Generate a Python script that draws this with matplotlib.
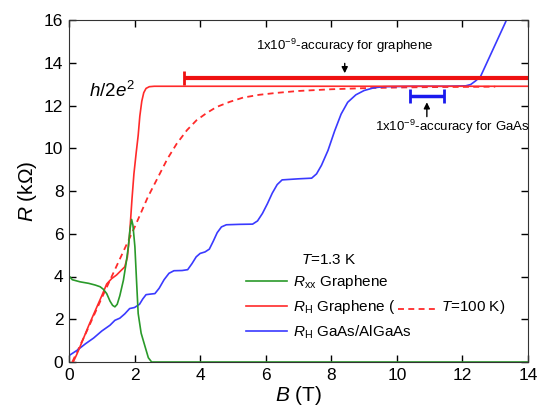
from matplotlib import pyplot as plt
from matplotlib.lines import Line2D
import numpy as np

plt.rcParams['font.family'] = ['Liberation Sans', 'DejaVu Sans']
plt.rcParams['mathtext.fontset'] = 'custom'
plt.rcParams['mathtext.rm'] = 'Liberation Sans'
plt.rcParams['mathtext.it'] = 'Liberation Sans:italic'

#%% Data (B in T, R in kOhm)
b_rxx = [0.0, 0.03, 0.1, 0.34, 0.6, 0.8, 0.95, 1.05, 1.15, 1.25, 1.33, 1.40, 1.47,
         1.55, 1.66, 1.74, 1.81, 1.86, 1.91, 1.95, 2.01, 2.06, 2.11, 2.2, 2.32,
         2.42, 2.52, 14.0]
r_rxx = [4.0, 3.98, 3.85, 3.75, 3.68, 3.6, 3.52, 3.4, 3.2, 2.85, 2.65, 2.58, 2.7,
         3.1, 3.83, 4.6, 5.39, 6.2, 6.67, 6.4, 5.39, 3.8, 2.27, 1.35, 0.72,
         0.2, 0.0, 0.0]

b_rh_gr = [0.13, 0.25, 0.4, 0.6, 0.8, 1.0, 1.15, 1.3, 1.45, 1.6, 1.7, 1.78, 1.85,
           1.92, 1.98, 2.05, 2.11, 2.16, 2.22, 2.28, 2.35, 2.45, 2.6, 14.0]
r_rh_gr = [0.0, 0.4, 0.95, 1.7, 2.4, 3.1, 3.65, 3.9, 4.07, 4.3, 4.45, 4.9, 6.0,
           7.6, 8.8, 9.8, 10.6, 11.5, 12.2, 12.6, 12.8, 12.88, 12.9, 12.9]

b_rh_gr_100k = [0.10, 0.5, 1.0, 1.5, 2.0, 2.4, 2.72, 3.0, 3.28, 3.6, 3.89, 4.2, 4.5,
                4.9, 5.31, 5.8, 6.33, 7.0, 8.0, 9.0, 10.0, 11.0, 12.0, 13.0]
r_rh_gr_100k = [0.0, 1.3, 3.0, 4.65, 6.3, 7.7, 8.66, 9.5, 10.2, 10.85, 11.31, 11.65, 11.93,
                12.17, 12.37, 12.5, 12.59, 12.68, 12.76, 12.81, 12.84, 12.86, 12.87, 12.88]

b_rh_gaas = [0.0, 0.25, 0.5, 0.75, 1.0, 1.25, 1.4, 1.55, 1.7, 1.85, 2.0, 2.15, 2.25,
             2.35, 2.5, 2.62, 2.75, 2.9, 3.05, 3.2, 3.45, 3.62, 3.75, 3.88, 4.0,
             4.15, 4.28, 4.4, 4.52, 4.65, 4.8, 5.2, 5.6, 5.75, 5.9, 6.05, 6.2,
             6.35, 6.5, 7.0, 7.4, 7.55, 7.7, 7.9, 8.1, 8.3, 8.5, 8.75, 9.0, 9.3,
             9.6, 10.5, 11.5, 12.1, 12.25, 12.4, 12.55, 12.7, 12.85, 13.0, 13.15,
             13.3, 13.4]
r_rh_gaas = [0.3, 0.55, 0.85, 1.12, 1.45, 1.72, 1.95, 2.05, 2.25, 2.5, 2.55, 2.7, 2.95,
             3.15, 3.18, 3.2, 3.45, 3.85, 4.15, 4.27, 4.28, 4.32, 4.6, 4.92, 5.08,
             5.15, 5.28, 5.65, 6.05, 6.32, 6.42, 6.44, 6.45, 6.6, 6.95, 7.4, 7.9,
             8.3, 8.52, 8.57, 8.6, 8.8, 9.2, 9.9, 10.8, 11.6, 12.15, 12.5, 12.7, 12.83,
             12.88, 12.9, 12.9, 12.92, 12.98, 13.15, 13.35, 13.85, 14.35, 14.85, 15.35,
             15.85, 16.2]

# accuracy bars: (B start, B end, R)
graphene_bar = (3.5, 14.5, 13.3)
gaas_bar = (10.4, 11.43, 12.43)

#%% Plot
fig = plt.figure(figsize=(5.43, 4.12), dpi=100)
ax = fig.add_axes([69 / 543, 50 / 412, 459 / 543, 342 / 412])

red = '#ff2a2a'
ax.plot(b_rh_gr_100k, r_rh_gr_100k, color=red, lw=1.3, dashes=(3.3, 2.4))
ax.plot(b_rh_gaas, r_rh_gaas, color='#3a3aff', lw=1.2, label=r'$R_{\rm H}$ GaAs/AlGaAs')
ax.plot(b_rh_gr, r_rh_gr, color=red, lw=1.2, label=r'$R_{\rm H}$ Graphene (')
ax.plot(b_rxx, r_rxx, color='#2a9a2a', lw=1.2, label=r'$R_{\rm xx}$ Graphene')

gx = (graphene_bar[0] + graphene_bar[1]) / 2
ax.errorbar(gx, graphene_bar[2], xerr=gx - graphene_bar[0], color='#ee1111',
            lw=3, capsize=5, capthick=2, zorder=5)
bx = (gaas_bar[0] + gaas_bar[1]) / 2
ax.errorbar(bx, gaas_bar[2], xerr=bx - gaas_bar[0], color='#1a1aee',
            lw=2.5, capsize=5, capthick=2, zorder=5)

ax.annotate('', xy=(8.41, graphene_bar[2] + 0.08), xytext=(8.41, 14.1),
            arrowprops=dict(arrowstyle='-|>', color='k', lw=1, mutation_scale=9))
ax.text(8.41, 14.35, r'1x10$^{-9}$-accuracy for graphene', ha='center', va='bottom',
        fontsize=9.5)
ax.annotate('', xy=(bx, gaas_bar[2] - 0.15), xytext=(bx, 11.35),
            arrowprops=dict(arrowstyle='-|>', color='k', lw=1, mutation_scale=9))
ax.text(11.7, 11.0, r'1x10$^{-9}$-accuracy for GaAs', ha='center', va='center',
        fontsize=9.5)
ax.text(0.62, 12.7, r'$h$/2$e^2$', fontsize=13.5, va='center')

h, l = ax.get_legend_handles_labels()
order = [2, 1, 0]
leg = ax.legend([h[i] for i in order], [l[i] for i in order], loc='upper left',
                bbox_to_anchor=(0.385, 0.32), frameon=False, fontsize=11,
                title=r'$T$=1.3 K', title_fontsize=11, handlelength=2.7,
                handletextpad=0.4, labelspacing=0.45, borderpad=0, borderaxespad=0)

ax.set_xlim(0, 14)
ax.set_ylim(0, 16)
ax.set_xticks(np.arange(0, 15, 2))
ax.set_yticks(np.arange(0, 17, 2))
ax.tick_params(direction='in', top=True, right=True, length=5, width=1,
               labelsize=12.5, pad=4)
for s in ax.spines.values():
    s.set_color('#333333')
ax.set_xlabel(r'$B$ (T)', fontsize=15, labelpad=1)
ax.set_ylabel(r'$R$ (k$\Omega$)', fontsize=15, labelpad=4)

# the "- - - T=100 K)" part of the red legend entry
fig.canvas.draw()
rend = fig.canvas.get_renderer()
bb = leg.get_texts()[1].get_window_extent(rend)
inv = ax.transAxes.inverted()
(x1, y0), (_, y1) = inv.transform([[bb.x1, bb.y0], [bb.x1, bb.y1]])
ym = (y0 + y1) / 2 - 0.005
ax.add_line(Line2D([x1 + 0.006, x1 + 0.086], [ym, ym], transform=ax.transAxes,
                   color=red, lw=1.3, dashes=(3.3, 2.4)))
ax.text(x1 + 0.098, (y0 + y1) / 2, r'$T$=100 K)', transform=ax.transAxes,
        fontsize=11, va='center')

fig.savefig('out.png', dpi=100)
